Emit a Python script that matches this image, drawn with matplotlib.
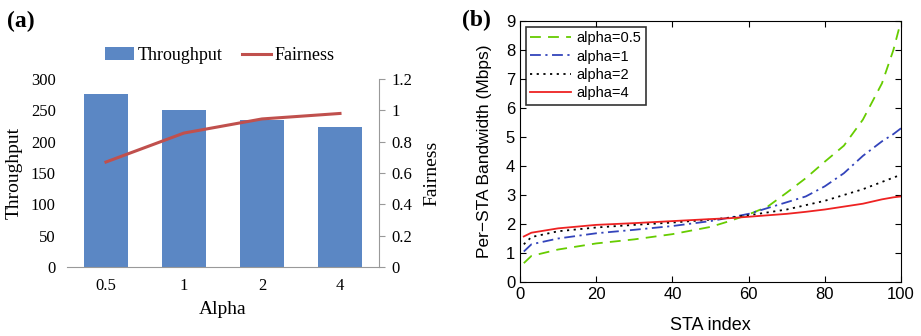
import matplotlib
matplotlib.use("Agg")
import matplotlib.pyplot as plt
import numpy as np

# panel (a): throughput / fairness vs alpha
alpha_labels = ["0.5", "1", "2", "4"]
throughput = [276, 251, 234, 223]
fairness = [0.67, 0.855, 0.945, 0.98]

# panel (b): sorted per-STA bandwidth
sta_idx = [1, 3, 10, 20, 30, 40, 50, 55, 60, 65, 70, 75, 80, 85, 90, 95, 98, 100]
bw_a05 = [0.65, 0.9, 1.12, 1.33, 1.47, 1.65, 1.9, 2.1, 2.33, 2.6, 3.08, 3.58, 4.15, 4.7, 5.6, 6.85, 8.0, 9.0]
bw_a1 = [1.05, 1.3, 1.5, 1.68, 1.8, 1.93, 2.1, 2.22, 2.35, 2.55, 2.75, 2.95, 3.3, 3.75, 4.35, 4.85, 5.1, 5.3]
bw_a2 = [1.3, 1.55, 1.75, 1.88, 1.97, 2.05, 2.15, 2.22, 2.3, 2.4, 2.5, 2.65, 2.8, 3.0, 3.2, 3.45, 3.6, 3.7]
bw_a4 = [1.57, 1.7, 1.85, 1.97, 2.03, 2.1, 2.17, 2.2, 2.25, 2.3, 2.35, 2.42, 2.5, 2.6, 2.7, 2.85, 2.92, 2.95]

fig = plt.figure(figsize=(9.21, 3.36), dpi=100)

# ---- (a) ----
serif = "Liberation Serif"
ax1 = fig.add_axes([0.0727, 0.2054, 0.3388, 0.5595])
x = np.arange(len(alpha_labels))
bars = ax1.bar(x, throughput, width=0.57, color="#5B87C4", label="Throughput")
ax1.set_ylim(0, 300)
ax1.set_yticks(range(0, 301, 50))
ax1.set_xlim(-0.5, 3.5)
ax1.set_xticks(x)
ax1.set_xticklabels(alpha_labels)
for s in ["top", "left", "right"]:
    ax1.spines[s].set_visible(False)
ax1.spines["bottom"].set_color("#999999")
ax1.tick_params(axis="y", length=0, labelsize=12, pad=8)
ax1.tick_params(axis="x", length=0, labelsize=12, pad=8)
for lab in ax1.get_xticklabels() + ax1.get_yticklabels():
    lab.set_fontfamily(serif)
ax1.set_xlabel("Alpha", fontfamily=serif, fontsize=14, labelpad=5)
ax1.set_ylabel("Throughput", fontfamily=serif, fontsize=14, labelpad=6)

ax2 = ax1.twinx()
line, = ax2.plot(x, fairness, color="#C0504D", lw=2.2, label="Fairness")
ax2.set_ylim(0, 1.2)
ax2.set_yticks([0, 0.2, 0.4, 0.6, 0.8, 1.0, 1.2])
ax2.set_yticklabels(["0", "0.2", "0.4", "0.6", "0.8", "1", "1.2"])
for s in ["top", "left", "bottom"]:
    ax2.spines[s].set_visible(False)
ax2.spines["right"].set_color("#999999")
ax2.tick_params(axis="y", length=4, color="#999999", labelsize=12, pad=5)
for lab in ax2.get_yticklabels():
    lab.set_fontfamily(serif)
ax2.set_ylabel("Fairness", fontfamily=serif, fontsize=14, labelpad=8)

fig.legend([bars, line], ["Throughput", "Fairness"], loc="center",
           bbox_to_anchor=(0.239, 0.835), ncol=2, frameon=False,
           prop={"family": serif, "size": 13}, handlelength=1.6,
           handletextpad=0.2, columnspacing=1.1)
fig.text(0.008, 0.935, "(a)", fontfamily=serif, fontweight="bold", fontsize=17, va="center")

# ---- (b) ----
sans = "Liberation Sans"
ax3 = fig.add_axes([0.5646, 0.1607, 0.4137, 0.7768])
ax3.plot(sta_idx, bw_a05, color="#66CC00", ls=(0, (6, 4)), lw=1.3, label="alpha=0.5")
ax3.plot(sta_idx, bw_a1, color="#3344BB", ls=(0, (6, 2.5, 1.2, 2.5)), lw=1.3, label="alpha=1")
ax3.plot(sta_idx, bw_a2, color="black", ls=(0, (1.2, 2.5)), lw=1.3, label="alpha=2")
ax3.plot(sta_idx, bw_a4, color="#EE2222", ls="-", lw=1.3, label="alpha=4")
ax3.set_xlim(0, 100)
ax3.set_ylim(0, 9)
ax3.set_xticks(range(0, 101, 20))
ax3.set_yticks(range(0, 10))
ax3.tick_params(direction="in", top=True, right=True, labelsize=12, length=4)
for lab in ax3.get_xticklabels() + ax3.get_yticklabels():
    lab.set_fontfamily(sans)
ax3.set_xlabel("STA index", fontfamily=sans, fontsize=13, labelpad=11)
ax3.set_ylabel("Per\u2212STA Bandwidth (Mbps)", fontfamily=sans, fontsize=12.5, labelpad=10)
leg = ax3.legend(loc="upper left", prop={"family": sans, "size": 10.5},
                 fancybox=False, edgecolor="black", handlelength=2.8,
                 handletextpad=0.4, labelspacing=0.3, borderaxespad=0.4,
                 borderpad=0.3)
leg.get_frame().set_linewidth(1.2)
fig.text(0.502, 0.94, "(b)", fontfamily=serif, fontweight="bold", fontsize=17, va="center")

fig.savefig("out.png", dpi=100)
